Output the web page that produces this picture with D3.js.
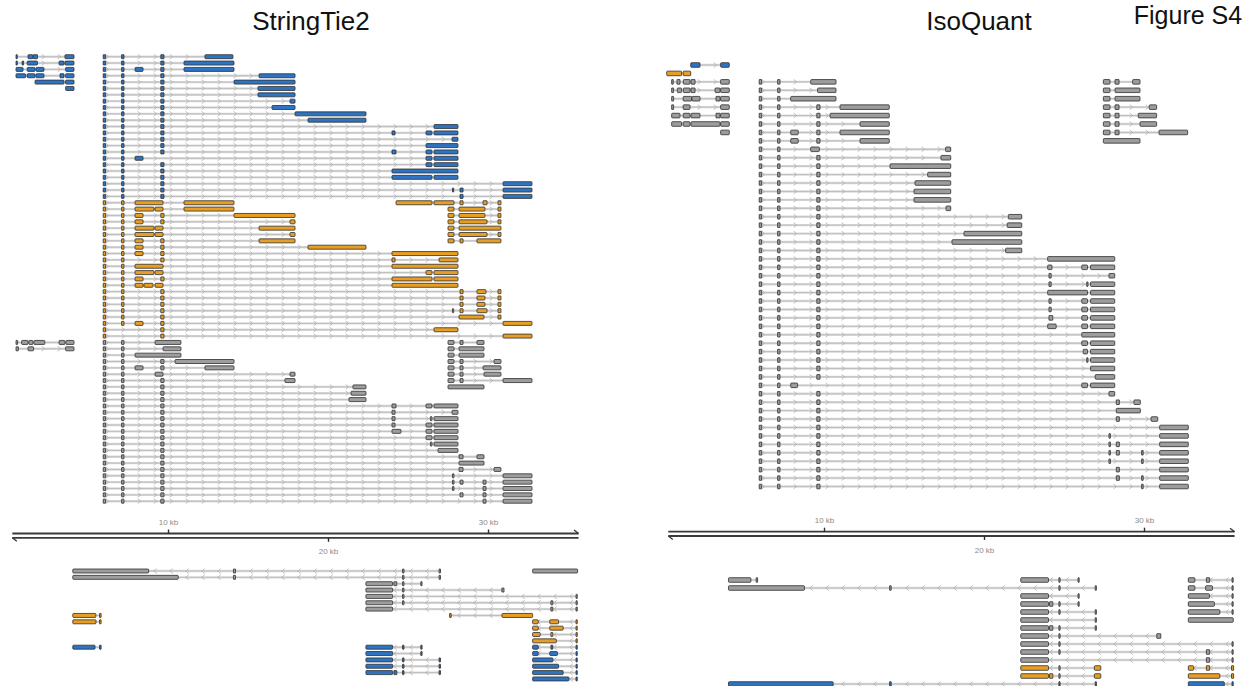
<!DOCTYPE html>
<html><head><meta charset="utf-8">
<script src="https://cdn.jsdelivr.net/npm/d3@7"></script>
<style>
body{margin:0;background:#fff;}
svg{display:block;font-family:"Liberation Sans",Arial,sans-serif;}
</style></head><body>
<svg id="fig" width="1250" height="686"></svg>
<script>
// Shared 5' exons of the main locus (kb)
const E1=[5.95,6.1], E2=[7.1,7.25], E3=[9.55,9.75];

// Transcripts: [row, class, exons [start,end] in kb]
// class: B = reference, O = novel isoform, G = other
const stTop = [
 [0,"B",[[0.5,0.58],[1.25,1.56],[1.59,1.84],[3.56,4.125]]],
 [0,"B",[E1,E2,E3,[12.31,14.06]]],
 [1,"B",[[0.5,0.58],[0.88,0.97],[1.2,1.84],[3.19,3.5],[3.56,4.125]]],
 [1,"B",[E1,E2,E3,[11.0,14.125]]],
 [2,"B",[[0.5,0.94],[1.2,1.69],[1.75,2.25],[3.6,4.125]]],
 [2,"B",[E1,E2,[7.94,8.44],E3,[11.0,14.125]]],
 [3,"B",[[0.5,1.1],[1.2,1.69],[1.75,2.25],[3.25,3.5],[3.6,4.125]]],
 [3,"B",[E1,E2,E3,[15.69,17.94]]],
 [4,"B",[[1.69,3.5],[3.6,4.125]]],
 [4,"B",[E1,E2,E3,[14.125,17.94]]],
 [5,"B",[[3.6,4.125]]],
 [5,"B",[E1,E2,E3,[15.625,17.94]]],
 [6,"B",[E1,E2,E3,[15.625,17.94]]],
 [7,"B",[E1,E2,E3,[17.625,17.94]]],
 [8,"B",[E1,E2,E3,[16.5,17.94]]],
 [9,"B",[E1,E2,E3,[17.94,22.375]]],
 [10,"B",[E1,E2,E3,[18.75,22.375]]],
 [11,"B",[E1,E2,E3,[26.625,28.125]]],
 [12,"B",[E1,E2,E3,[24.0,24.19],[26.125,26.5],[26.625,28.125]]],
 [13,"B",[E1,E2,E3,[27.75,28.125]]],
 [14,"B",[E1,E2,E3,[26.125,28.125]]],
 [15,"B",[E1,E2,E3,[24.0,24.25],[26.125,26.5],[26.625,28.125]]],
 [16,"B",[E1,E2,[7.94,8.44],[26.125,26.5],[26.625,28.125]]],
 [17,"B",[E1,E2,E3,[26.125,26.5],[26.625,28.125]]],
 [18,"B",[E1,E2,E3,[24.0,28.125]]],
 [19,"B",[E1,E2,E3,[24.0,26.5],[26.625,28.125]]],
 [20,"B",[E1,E2,E3,[30.94,32.75]]],
 [21,"B",[E1,E2,E3,[27.78,27.85],[28.25,28.44],[30.94,32.75]]],
 [22,"B",[E1,E2,E3,[28.25,28.44],[30.94,32.75]]],
 [23,"O",[E1,E2,[7.94,9.69],[11.0,14.125]]],
 [23,"O",[[24.25,26.5],[26.625,27.875],[28.25,28.44],[29.69,29.94],[30.625,30.81]]],
 [24,"O",[E1,E2,[7.94,9.125],[9.19,9.69],[11.0,14.125]]],
 [24,"O",[[27.5,27.875],[28.19,29.81],[30.625,30.81]]],
 [25,"O",[E1,E2,[7.94,8.44],E3,[14.125,17.94]]],
 [25,"O",[[27.5,27.875],[28.19,29.81],[30.625,30.81]]],
 [26,"O",[E1,E2,[7.94,8.44],E3,[17.625,17.94]]],
 [26,"O",[[27.5,27.875],[28.19,29.94],[30.625,30.81]]],
 [27,"O",[E1,E2,[7.94,9.125],[9.19,9.69],[15.69,17.94]]],
 [27,"O",[[27.5,27.875],[28.19,30.81]]],
 [28,"O",[E1,E2,[7.94,9.125],[9.19,9.69],[17.625,17.94]]],
 [28,"O",[[27.5,27.875],[28.19,29.94],[30.625,30.81]]],
 [29,"O",[E1,E2,[7.94,8.44],E3,[15.69,17.94]]],
 [29,"O",[[27.5,27.875],[28.25,28.44],[29.31,30.81]]],
 [30,"O",[E1,E2,[7.94,8.44],E3,[18.75,22.375]]],
 [31,"O",[E1,E2,[7.94,8.44],E3,[24.0,28.125]]],
 [32,"O",[E1,E2,E3,[24.0,24.19],[26.94,28.125]]],
 [33,"O",[E1,E2,[7.94,9.69],[24.0,28.125]]],
 [34,"O",[E1,E2,[7.94,9.125],[9.19,9.69],[26.125,26.5],[26.625,28.125]]],
 [35,"O",[E1,E2,[7.94,8.44],E3,[24.0,26.5],[26.625,28.125]]],
 [36,"O",[E1,E2,[7.94,8.44],[8.5,9.06],[9.19,9.69],[24.0,28.125]]],
 [37,"O",[E1,E2,E3,[28.25,28.44],[29.31,29.875],[30.625,30.81]]],
 [38,"O",[E1,E2,E3,[28.25,28.44],[29.31,29.81],[30.625,30.81]]],
 [39,"O",[E1,E2,E3,[28.25,28.44],[29.31,29.81],[30.625,30.81]]],
 [40,"O",[E1,E2,E3,[27.78,27.85],[28.25,28.44],[29.31,29.94],[30.625,30.81]]],
 [41,"O",[E1,E2,E3,[28.19,29.75],[30.625,30.81]]],
 [42,"O",[E1,E2,[7.94,8.44],E3,[30.94,32.75]]],
 [43,"O",[E1,E3,[26.625,28.125]]],
 [44,"O",[E1,E3,[30.94,32.75]]],
 [45,"G",[[0.5,0.6],[0.85,1.25],[1.3,1.56],[1.62,2.3],[3.19,3.56],[3.62,4.125]]],
 [45,"G",[E1,E2,[9.19,10.81]]],
 [45,"G",[[27.5,27.875],[28.25,28.44],[29.31,29.75]]],
 [46,"G",[[0.5,0.65],[1.25,1.6],[3.6,4.125]]],
 [46,"G",[E1,E2,[9.69,10.81]]],
 [46,"G",[[27.5,27.875],[28.19,29.75]]],
 [47,"G",[E1,E2,[7.94,10.81]]],
 [47,"G",[[27.5,27.875],[28.19,29.75]]],
 [48,"G",[E1,E2,E3,[10.44,14.125]]],
 [48,"G",[[27.5,27.875],[28.25,28.44],[30.375,30.81]]],
 [49,"G",[E1,E2,[7.94,8.44],E3,[12.31,14.125]]],
 [49,"G",[[27.5,27.875],[28.25,28.44],[29.69,30.81]]],
 [50,"G",[E1,E2,[9.19,9.69],[17.625,17.94]]],
 [50,"G",[[27.5,27.875],[28.25,28.44],[29.75,30.81]]],
 [51,"G",[E1,E2,E3,[17.31,17.94]]],
 [51,"G",[[27.5,27.875],[28.25,28.44],[30.94,32.75]]],
 [52,"G",[E1,E2,E3,[21.56,22.375]]],
 [52,"G",[[27.5,29.75]]],
 [53,"G",[E1,E2,E3,[21.44,22.375]]],
 [54,"G",[E1,E2,E3,[21.31,22.375]]],
 [55,"G",[E1,E2,E3,[24.0,24.25],[26.125,26.5],[26.625,28.125]]],
 [56,"G",[E1,E2,E3,[24.0,24.19],[27.75,28.125]]],
 [57,"G",[E1,E2,E3,[24.0,24.19],[26.4,26.5],[26.625,28.125]]],
 [58,"G",[E1,E2,E3,[24.0,24.19],[26.125,26.5],[26.625,28.125]]],
 [59,"G",[E1,E2,E3,[24.0,24.56],[26.125,26.5],[26.625,28.125]]],
 [60,"G",[E1,E2,E3,[26.125,26.5],[26.625,28.125]]],
 [61,"G",[E1,E2,E3,[26.4,26.5],[26.625,28.125]]],
 [62,"G",[E1,E2,E3,[26.875,28.125]]],
 [63,"G",[E1,E2,E3,[28.19,28.44],[29.31,29.75]]],
 [64,"G",[E1,E2,E3,[28.19,29.75]]],
 [65,"G",[E1,E2,E3,[28.19,28.44],[30.375,30.81]]],
 [66,"G",[E1,E2,E3,[27.78,27.875],[30.94,32.75]]],
 [67,"G",[E1,E2,E3,[27.78,27.875],[28.25,28.44],[29.69,29.875],[30.94,32.75]]],
 [68,"G",[E1,E2,E3,[27.78,27.875],[29.69,29.875],[30.94,32.75]]],
 [69,"G",[E1,E2,E3,[28.25,28.44],[29.69,29.875],[30.94,32.75]]],
 [70,"G",[E1,E2,E3,[29.69,29.875],[30.94,32.75]]]
];

const stBot = [
 [0,"G",[[4.05,8.79],[14.09,14.22],[24.66,24.75],[26.94,27.03]]],
 [0,"G",[[32.79,35.6]]],
 [1,"G",[[4.05,10.64],[14.09,14.22],[24.66,24.75],[26.94,27.03]]],
 [2,"G",[[22.37,24.04],[24.12,24.3],[24.66,24.75],[25.8,25.88]]],
 [3,"G",[[22.37,24.04],[24.66,24.75],[30.87,31.0]]],
 [4,"G",[[22.37,24.04],[24.66,24.75],[35.5,35.58]]],
 [5,"G",[[22.37,24.04],[24.66,24.75],[33.93,34.05],[35.5,35.58]]],
 [6,"G",[[22.37,24.04],[33.93,34.05],[35.5,35.58]]],
 [7,"O",[[4.05,5.49],[5.72,5.82]]],
 [7,"O",[[27.6,27.7],[30.875,32.79]]],
 [8,"O",[[4.05,5.5],[5.72,5.82]]],
 [8,"O",[[32.79,33.14],[33.86,34.41],[35.5,35.58]]],
 [9,"O",[[32.79,33.14],[33.86,34.7],[35.5,35.58]]],
 [10,"O",[[32.79,33.26],[33.93,34.05],[35.5,35.58]]],
 [11,"O",[[32.79,34.27],[35.5,35.58]]],
 [12,"B",[[4.05,5.44],[5.72,5.82]]],
 [12,"B",[[22.37,24.04],[24.66,24.75],[25.8,25.88]]],
 [12,"B",[[32.79,33.14],[33.93,34.05],[35.5,35.58]]],
 [13,"B",[[22.37,24.04],[25.8,25.88]]],
 [13,"B",[[32.79,33.14],[33.86,34.34],[35.5,35.58]]],
 [14,"B",[[22.37,24.04],[24.66,24.75],[26.94,27.03]]],
 [14,"B",[[32.79,34.06],[35.5,35.58]]],
 [15,"B",[[22.37,24.04],[24.66,24.75],[26.94,27.03]]],
 [15,"B",[[32.79,34.41],[35.5,35.58]]],
 [16,"B",[[22.37,24.04],[24.12,24.3],[24.66,24.75],[26.94,27.03]]],
 [16,"B",[[32.79,34.7],[35.5,35.58]]],
 [17,"B",[[32.79,35.06],[35.5,35.58]]]
];

const iqTop = [
 [0,"B",[[1.67,2.25],[3.54,4.08]]],
 [1,"O",[[0.17,1.1],[1.2,1.67]]],
 [2,"G",[[0.48,0.58],[0.81,1.0],[1.21,1.625],[1.69,1.94],[3.54,4.08]]],
 [2,"G",[E1,E2,[9.17,10.75]]],
 [2,"G",[[27.46,27.875],[28.19,28.44],[29.29,29.75]]],
 [3,"G",[[0.48,0.6],[0.83,1.1],[1.21,1.625],[1.69,1.94],[3.19,3.5],[3.54,4.08]]],
 [3,"G",[E1,E2,[9.6,10.75]]],
 [3,"G",[[27.46,27.875],[28.19,29.75]]],
 [4,"G",[[0.48,0.6],[1.2,1.73],[1.75,2.25],[3.25,3.5],[3.54,4.08]]],
 [4,"G",[E1,E2,[7.92,10.75]]],
 [4,"G",[[27.46,27.875],[28.19,29.75]]],
 [5,"G",[[0.48,0.6],[1.2,1.625],[3.54,4.08]]],
 [5,"G",[E1,E2,E3,[11.0,14.08]]],
 [5,"G",[[27.46,27.875],[28.19,28.44],[30.33,30.79]]],
 [6,"G",[[0.48,1.0],[1.2,1.625],[1.69,2.25],[3.25,3.5],[3.54,4.08]]],
 [6,"G",[E1,E2,E3,[10.375,14.08]]],
 [6,"G",[[27.46,27.875],[28.19,28.44],[29.64,30.79]]],
 [7,"G",[[0.48,1.1],[1.2,1.625],[1.69,3.5],[3.54,4.08]]],
 [7,"G",[E1,E2,E3,[12.25,14.08]]],
 [7,"G",[[27.46,27.875],[28.19,28.44],[29.75,30.79]]],
 [8,"G",[[3.54,4.08]]],
 [8,"G",[E1,E2,[7.92,8.39],E3,[11.0,14.08]]],
 [8,"G",[[27.46,27.875],[28.19,28.44],[30.94,32.73]]],
 [9,"G",[E1,E2,[7.92,8.39],E3,[12.25,14.08]]],
 [9,"G",[[27.46,29.75]]],
 [10,"G",[E1,E2,[9.17,9.71],[17.6,17.92]]],
 [11,"G",[E1,E2,E3,[17.31,17.92]]],
 [12,"G",[E1,E2,E3,[14.125,17.92]]],
 [13,"G",[E1,E2,E3,[16.48,17.92]]],
 [14,"G",[E1,E2,E3,[15.69,17.92]]],
 [15,"G",[E1,E2,E3,[15.625,17.92]]],
 [16,"G",[E1,E2,E3,[15.625,17.92]]],
 [17,"G",[E1,E2,E3,[17.625,17.92]]],
 [18,"G",[E1,E2,E3,[21.52,22.36]]],
 [19,"G",[E1,E2,E3,[21.45,22.36]]],
 [20,"G",[E1,E2,E3,[18.75,22.36]]],
 [21,"G",[E1,E2,E3,[18.0,22.36]]],
 [22,"G",[E1,E2,E3,[21.35,22.36]]],
 [23,"G",[E1,E2,E3,[23.98,28.17]]],
 [24,"G",[E1,E2,E3,[23.98,24.25],[26.11,26.47],[26.66,28.17]]],
 [25,"G",[E1,E2,E3,[24.06,24.2],[27.81,28.17]]],
 [26,"G",[E1,E2,E3,[24.06,24.2],[26.42,26.5],[26.66,28.17]]],
 [27,"G",[E1,E2,E3,[23.98,26.47],[26.66,28.17]]],
 [28,"G",[E1,E2,E3,[24.06,24.2],[26.11,26.47],[26.66,28.17]]],
 [29,"G",[E1,E2,E3,[24.06,24.2],[26.11,26.47],[26.66,28.17]]],
 [30,"G",[E1,E2,E3,[24.06,24.3],[26.11,26.47],[26.66,28.17]]],
 [31,"G",[E1,E2,E3,[23.98,24.51],[26.11,26.47],[26.66,28.17]]],
 [32,"G",[E1,E2,E3,[26.11,28.17]]],
 [33,"G",[E1,E2,E3,[26.11,26.47],[26.66,28.17]]],
 [34,"G",[E1,E2,E3,[26.2,26.47],[26.66,28.17]]],
 [35,"G",[E1,E2,E3,[26.42,26.5],[26.66,28.17]]],
 [36,"G",[E1,E2,E3,[26.66,28.17]]],
 [37,"G",[E1,E2,E3,[26.95,28.17]]],
 [38,"G",[E1,E2,[7.92,8.35],[26.11,26.47],[26.66,28.17]]],
 [39,"G",[E1,E2,E3,[27.81,28.17]]],
 [40,"G",[E1,E2,E3,[28.27,28.46],[29.37,29.77]]],
 [41,"G",[E1,E2,E3,[28.27,29.77]]],
 [42,"G",[E1,E2,E3,[28.27,28.46],[30.44,30.86]]],
 [43,"G",[E1,E2,E3,[30.98,32.77]]],
 [44,"G",[E1,E2,E3,[27.81,27.9],[30.98,32.77]]],
 [45,"G",[E1,E2,E3,[27.81,27.9],[28.27,28.46],[30.98,32.77]]],
 [46,"G",[E1,E2,E3,[27.81,27.9],[28.27,28.46],[29.85,29.95],[30.98,32.77]]],
 [47,"G",[E1,E2,E3,[27.81,27.9],[29.85,29.95],[30.98,32.77]]],
 [48,"G",[E1,E2,E3,[28.27,28.46],[30.98,32.77]]],
 [49,"G",[E1,E2,E3,[28.27,28.46],[29.85,29.95],[30.98,32.77]]],
 [50,"G",[E1,E2,E3,[29.85,29.95],[30.98,32.77]]]
];

const iqBot = [
 [0,"G",[[4.03,5.43],[5.76,5.85]]],
 [0,"G",[[22.3,24.03],[24.68,24.75],[25.875,25.95]]],
 [0,"G",[[32.77,33.18],[33.9,34.1],[35.5,35.56]]],
 [1,"G",[[4.03,8.78],[14.1,14.2],[24.68,24.75],[26.95,27.02]]],
 [1,"G",[[32.77,33.18],[33.85,34.28],[35.5,35.56]]],
 [2,"G",[[22.3,24.03],[25.875,25.95]]],
 [2,"G",[[32.77,34.09],[35.5,35.56]]],
 [3,"G",[[22.3,24.03],[24.1,24.3],[24.68,24.75],[25.875,25.95]]],
 [3,"G",[[32.77,34.4],[35.5,35.56]]],
 [4,"G",[[22.3,24.03],[24.68,24.75],[26.95,27.02]]],
 [4,"G",[[32.77,34.74],[35.5,35.56]]],
 [5,"G",[[22.3,24.03],[26.95,27.02]]],
 [5,"G",[[32.77,35.58]]],
 [6,"G",[[22.3,24.03],[24.1,24.3],[24.68,24.75],[26.95,27.02]]],
 [7,"G",[[22.3,24.03],[24.68,24.75],[30.8,31.05]]],
 [8,"G",[[22.3,24.03],[24.68,24.75],[35.5,35.56]]],
 [9,"G",[[22.3,24.03],[24.68,24.75],[33.9,34.1],[35.5,35.56]]],
 [10,"G",[[22.3,24.03],[33.9,34.1],[35.5,35.56]]],
 [11,"O",[[22.3,24.03],[24.68,24.75],[26.9,27.3]]],
 [11,"O",[[32.77,33.1],[33.9,34.1],[35.47,35.6]]],
 [12,"O",[[22.3,24.03],[24.1,24.3],[24.68,24.75],[26.9,27.3]]],
 [12,"O",[[32.77,34.74],[35.47,35.6]]],
 [13,"B",[[4.03,10.57],[14.1,14.2],[24.68,24.75],[26.95,27.02]]],
 [13,"B",[[32.77,35.02],[35.5,35.56]]]
];

// Genome axis ticks
const tickAbove = [10, 30];
const tickBelow = [20];
const axisRange = [0.27, 35.66];

const FILL = {B:"#2f74c2", O:"#e89e22", G:"#9d9d9d"};

const panels = [
  {title:"StringTie2", cx:311, off:0, top:stTop, bot:stBot,
   topY0:56.7, topStep:6.35, botY0:571, botStep:6.35, axisY:533.5, h:4},
  {title:"IsoQuant", cx:979, off:656, top:iqTop, bot:iqBot,
   topY0:65, topStep:8.43, botY0:580, botStep:8.0, axisY:531.7, h:4.6}
];

const svg = d3.select("#fig");

function drawTrack(g, x, y, list, strand, h) {
  const tg = g.append("g");
  list.forEach(([row, cls, exons]) => {
    const yy = y(row);
    const s = exons[0][0], e = exons[exons.length - 1][1];
    if (exons.length > 1) {
      tg.append("line").attr("x1", x(s)).attr("x2", x(e)).attr("y1", yy).attr("y2", yy)
        .attr("stroke", "#dcdcdc").attr("stroke-width", 2.4);
      tg.append("line").attr("x1", x(s)).attr("x2", x(e)).attr("y1", yy).attr("y2", yy)
        .attr("stroke", "#a9a9a9").attr("stroke-width", 0.6);
      // strand chevrons on a 1 kb grid along the introns
      const a = exons[0][1], b = exons[exons.length - 1][0];
      for (let k = Math.floor(a); k < b; k++) {
        const p = k + 0.2;
        if (p <= a + 0.02 || p >= b - 0.12) continue;
        if (exons.some(ex => p > ex[0] - 0.12 && p < ex[1] + 0.02)) continue;
        const px = x(p);
        const d = strand > 0
          ? `M${px - 1.5},${yy - 2.4}L${px + 1.5},${yy}L${px - 1.5},${yy + 2.4}`
          : `M${px + 1.5},${yy - 2.4}L${px - 1.5},${yy}L${px + 1.5},${yy + 2.4}`;
        tg.append("path").attr("d", d).attr("fill", "none")
          .attr("stroke", "#b5b5b5").attr("stroke-width", 0.9);
      }
    }
    tg.selectAll(null).data(exons).join("rect")
      .attr("x", d => x(d[0]))
      .attr("y", yy - h / 2)
      .attr("width", d => Math.max(x(d[1]) - x(d[0]), 1.2))
      .attr("height", h)
      .attr("rx", d => (x(d[1]) - x(d[0]) > 4 ? 0.8 : 0.2))
      .attr("fill", FILL[cls])
      .attr("stroke", "#2e2e2e")
      .attr("stroke-width", 0.8);
  });
}

panels.forEach(p => {
  const g = svg.append("g");
  const x = d3.scaleLinear().domain([0, 36]).range([8 + p.off, 8 + p.off + 576]);
  const yTop = d3.scaleLinear().domain([0, 1]).range([p.topY0, p.topY0 + p.topStep]);
  const yBot = d3.scaleLinear().domain([0, 1]).range([p.botY0, p.botY0 + p.botStep]);

  g.append("text").attr("x", p.cx).attr("y", 30).attr("text-anchor", "middle")
    .attr("font-size", 26).attr("fill", "#111").text(p.title);

  drawTrack(g, x, yTop, p.top, 1, p.h);
  drawTrack(g, x, yBot, p.bot, -1, p.h);

  // genome axis: forward strand line on top, reverse strand line below
  const ax = g.append("g");
  const y1 = p.axisY, y2 = p.axisY + 4.3;
  const x0 = x(axisRange[0]), x1 = x(axisRange[1]);
  ax.append("line").attr("x1", x0).attr("x2", x1).attr("y1", y1).attr("y2", y1)
    .attr("stroke", "#3a3a3a").attr("stroke-width", 1.8);
  ax.append("line").attr("x1", x0).attr("x2", x1).attr("y1", y2).attr("y2", y2)
    .attr("stroke", "#3a3a3a").attr("stroke-width", 1.8);
  ax.append("path").attr("d", `M${x1 - 4.5},${y1 - 3.5}L${x1},${y1}`)
    .attr("stroke", "#3a3a3a").attr("stroke-width", 1.4).attr("fill", "none");
  ax.append("path").attr("d", `M${x0 + 4.5},${y2 + 3.5}L${x0},${y2}`)
    .attr("stroke", "#3a3a3a").attr("stroke-width", 1.4).attr("fill", "none");

  const axTop = g.append("g").attr("transform", `translate(0,${y1})`)
    .call(d3.axisTop(x).tickValues(tickAbove).tickSize(4).tickPadding(5)
      .tickFormat(d => d + " kb"));
  const axBot = g.append("g").attr("transform", `translate(0,${y2})`)
    .call(d3.axisBottom(x).tickValues(tickBelow).tickSize(4).tickPadding(7)
      .tickFormat(d => d + " kb"));
  [axTop, axBot].forEach(a => {
    a.select(".domain").remove();
    a.selectAll(".tick line").attr("stroke", "#2a2a2a").attr("stroke-width", 1.4);
    a.selectAll(".tick text").attr("fill", "#8a8a8a").attr("font-size", 8)
      .attr("font-family", "'Liberation Sans', Arial, sans-serif");
  });
});

svg.append("text").attr("x", 1188).attr("y", 24).attr("text-anchor", "middle")
  .attr("font-size", 25).attr("fill", "#111").text("Figure S4");
</script>
</body></html>
